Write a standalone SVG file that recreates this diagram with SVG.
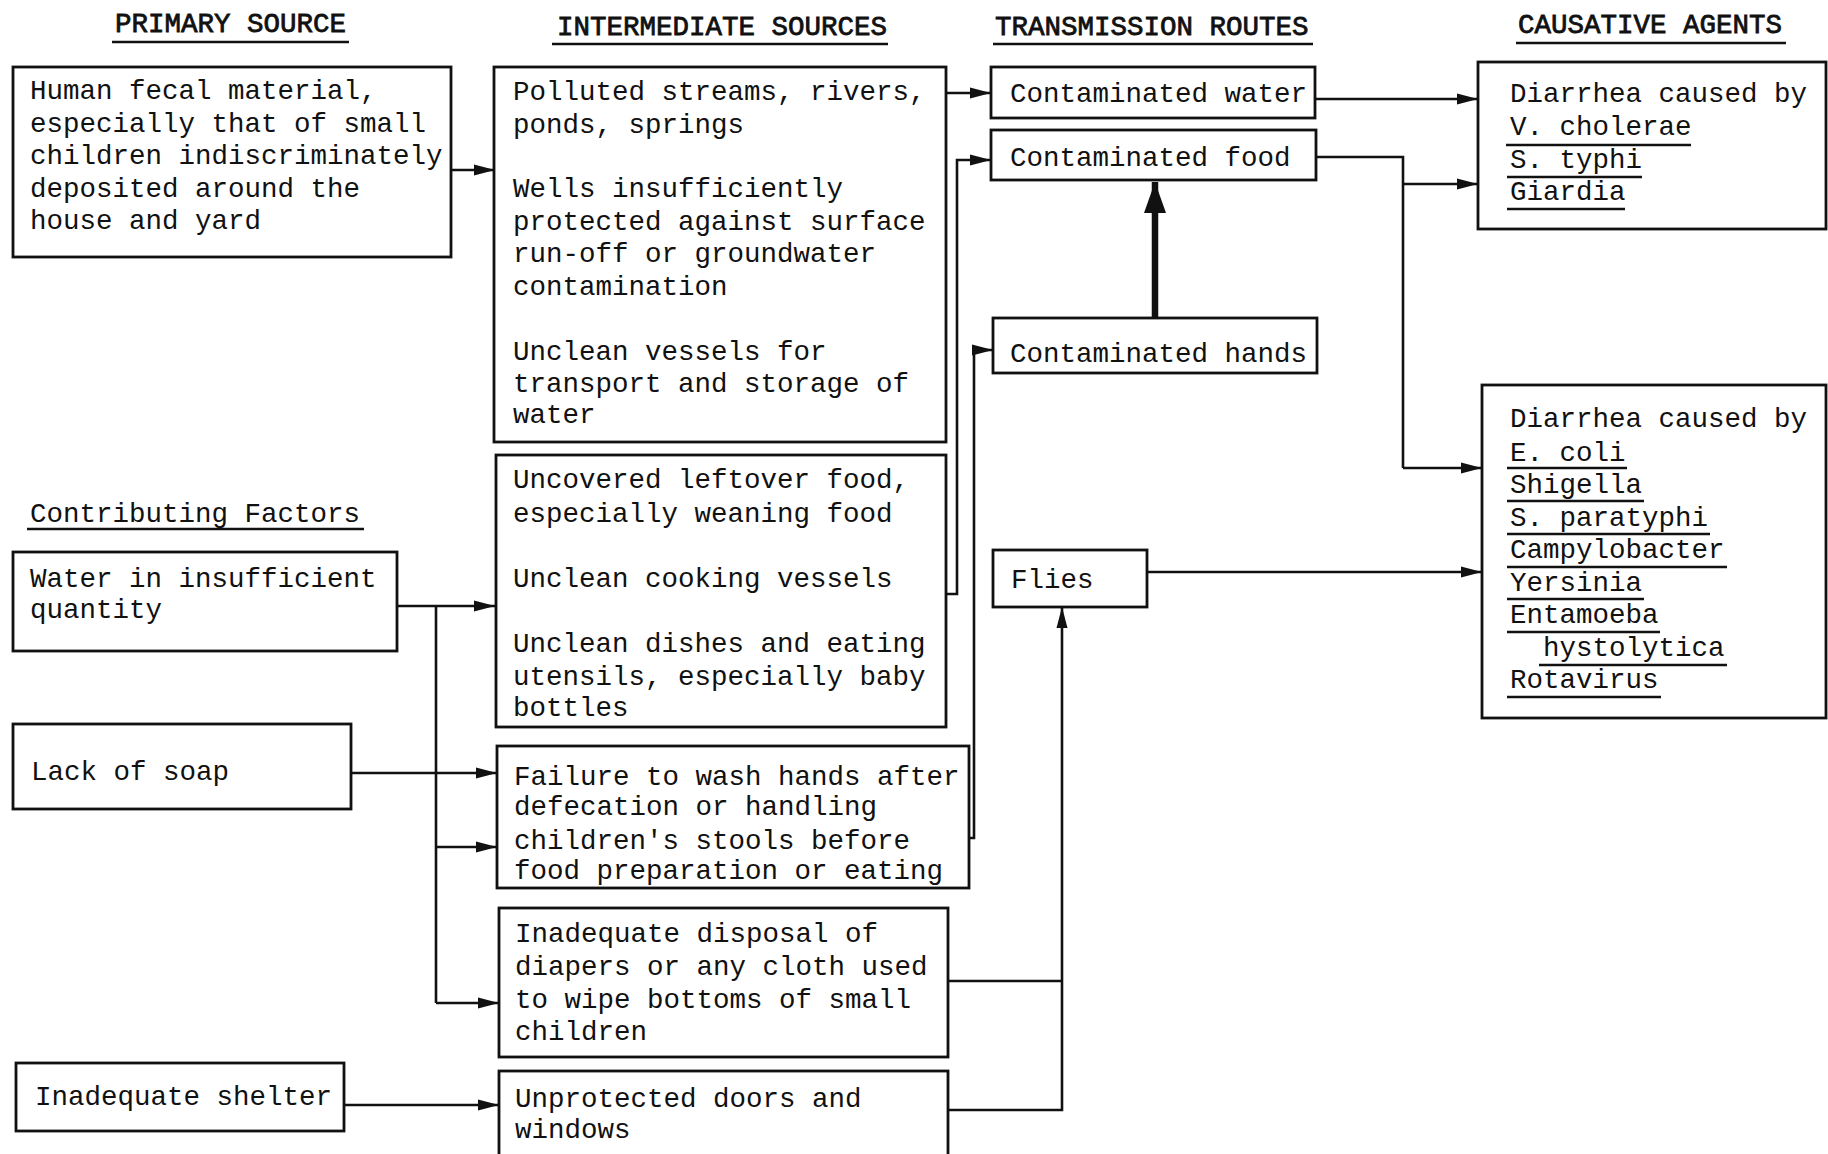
<svg xmlns="http://www.w3.org/2000/svg" width="1828" height="1154" viewBox="0 0 1828 1154">
<defs>
<style>
text{font-family:"Liberation Mono","DejaVu Sans Mono",monospace;font-size:27.5px;fill:#111}
.hd{font-size:27.5px;stroke:#111;stroke-width:0.8}
.box{fill:#fff;stroke:#111;stroke-width:2.8}
.ln{fill:none;stroke:#111;stroke-width:2.6}
.ul{fill:none;stroke:#111;stroke-width:2.4}
.arr{marker-end:url(#ah)}
</style>
<marker id="ah" markerUnits="userSpaceOnUse" markerWidth="22" markerHeight="12" refX="21" refY="6" orient="auto">
<path d="M0,0.5 L21,6 L0,11.5 z" fill="#111"/>
</marker>
<marker id="ahb" markerUnits="userSpaceOnUse" markerWidth="32" markerHeight="22" refX="31" refY="11" orient="auto">
<path d="M0,0 L31,11 L0,22 z" fill="#111"/>
</marker>
</defs>
<rect width="1828" height="1154" fill="#fff"/>

<g id="headers">
<text class="hd" x="115" y="32">PRIMARY SOURCE</text>
<line class="ul" x1="112" y1="42" x2="349" y2="42"/>
<text class="hd" x="557" y="35">INTERMEDIATE SOURCES</text>
<line class="ul" x1="552" y1="44" x2="888" y2="44"/>
<text class="hd" x="995" y="35">TRANSMISSION ROUTES</text>
<line class="ul" x1="993" y1="44" x2="1313" y2="44"/>
<text class="hd" x="1518" y="33">CAUSATIVE AGENTS</text>
<line class="ul" x1="1516" y1="43" x2="1786" y2="43"/>
<text x="30" y="522">Contributing Factors</text>
<line class="ul" x1="27" y1="529" x2="364" y2="529"/>
</g>

<g id="connectors">
<line class="ln arr" x1="451" y1="170" x2="495" y2="170"/>
<line class="ln arr" x1="946" y1="93" x2="991" y2="93"/>
<polyline class="ln arr" points="946,594 957,594 957,160 991,160"/>
<polyline class="ln arr" points="969,838 974,838 974,350 993,350"/>
<line x1="1155" y1="318" x2="1155" y2="182" stroke="#111" stroke-width="6.5" marker-end="url(#ahb)"/>
<line class="ln arr" x1="1315" y1="99" x2="1478" y2="99"/>
<polyline class="ln" points="1316,157 1403,157 1403,468"/>
<line class="ln arr" x1="1403" y1="184" x2="1478" y2="184"/>
<line class="ln arr" x1="1403" y1="468" x2="1482" y2="468"/>
<line class="ln arr" x1="1147" y1="572" x2="1482" y2="572"/>
<line class="ln arr" x1="397" y1="606" x2="495" y2="606"/>
<polyline class="ln" points="436,606 436,1003"/>
<line class="ln arr" x1="436" y1="847" x2="497" y2="847"/>
<line class="ln arr" x1="436" y1="1003" x2="499" y2="1003"/>
<line class="ln arr" x1="351" y1="773" x2="497" y2="773"/>
<line class="ln arr" x1="344" y1="1105" x2="499" y2="1105"/>
<polyline class="ln" points="948,981 1062,981"/>
<polyline class="ln arr" points="948,1110 1062,1110 1062,607"/>
</g>

<g id="n-primary">
<rect class="box" x="13" y="67" width="438" height="190"/>
<text x="30" y="99">Human fecal material,</text>
<text x="30" y="132">especially that of small</text>
<text x="30" y="164">children indiscriminately</text>
<text x="30" y="197">deposited around the</text>
<text x="30" y="229">house and yard</text>
</g>

<g id="n-water-sources">
<rect class="box" x="494" y="67" width="452" height="375"/>
<text x="513" y="100">Polluted streams, rivers,</text>
<text x="513" y="133">ponds, springs</text>
<text x="513" y="197">Wells insufficiently</text>
<text x="513" y="230">protected against surface</text>
<text x="513" y="262">run-off or groundwater</text>
<text x="513" y="295">contamination</text>
<text x="513" y="360">Unclean vessels for</text>
<text x="513" y="392">transport and storage of</text>
<text x="513" y="423">water</text>
</g>

<g id="n-food-sources">
<rect class="box" x="496" y="455" width="450" height="272"/>
<text x="513" y="488">Uncovered leftover food,</text>
<text x="513" y="522">especially weaning food</text>
<text x="513" y="587">Unclean cooking vessels</text>
<text x="513" y="652">Unclean dishes and eating</text>
<text x="513" y="685">utensils, especially baby</text>
<text x="513" y="716">bottles</text>
</g>

<g id="n-failure">
<rect class="box" x="497" y="746" width="472" height="142"/>
<text x="514" y="785">Failure to wash hands after</text>
<text x="514" y="815">defecation or handling</text>
<text x="514" y="849">children's stools before</text>
<text x="514" y="879">food preparation or eating</text>
</g>

<g id="n-diapers">
<rect class="box" x="499" y="908" width="449" height="149"/>
<text x="515" y="942">Inadequate disposal of</text>
<text x="515" y="975">diapers or any cloth used</text>
<text x="515" y="1008">to wipe bottoms of small</text>
<text x="515" y="1040">children</text>
</g>

<g id="n-doors">
<rect class="box" x="499" y="1071" width="449" height="100"/>
<text x="515" y="1107">Unprotected doors and</text>
<text x="515" y="1138">windows</text>
</g>

<g id="n-water-qty">
<rect class="box" x="13" y="552" width="384" height="99"/>
<text x="30" y="587">Water in insufficient</text>
<text x="30" y="618">quantity</text>
</g>

<g id="n-soap">
<rect class="box" x="13" y="724" width="338" height="85"/>
<text x="31" y="780">Lack of soap</text>
</g>

<g id="n-shelter">
<rect class="box" x="16" y="1063" width="328" height="68"/>
<text x="35" y="1105">Inadequate shelter</text>
</g>

<g id="n-cwater">
<rect class="box" x="991" y="67" width="324" height="51"/>
<text x="1010" y="102">Contaminated water</text>
</g>

<g id="n-cfood">
<rect class="box" x="991" y="130" width="325" height="50"/>
<text x="1010" y="166">Contaminated food</text>
</g>

<g id="n-chands">
<rect class="box" x="993" y="318" width="324" height="55"/>
<text x="1010" y="362">Contaminated hands</text>
</g>

<g id="n-flies">
<rect class="box" x="993" y="550" width="154" height="57"/>
<text x="1011" y="588">Flies</text>
</g>

<g id="n-agents1">
<rect class="box" x="1478" y="62" width="348" height="167"/>
<text x="1510" y="102">Diarrhea caused by</text>
<text x="1510" y="135">V. cholerae</text>
<line class="ul" x1="1506" y1="145" x2="1691" y2="145"/>
<text x="1510" y="168">S. typhi</text>
<line class="ul" x1="1507" y1="177" x2="1642" y2="177"/>
<text x="1510" y="200">Giardia</text>
<line class="ul" x1="1507" y1="209" x2="1625" y2="209"/>
</g>

<g id="n-agents2">
<rect class="box" x="1482" y="385" width="344" height="333"/>
<text x="1510" y="427">Diarrhea caused by</text>
<text x="1510" y="461">E. coli</text>
<line class="ul" x1="1507" y1="468" x2="1627" y2="468"/>
<text x="1510" y="493">Shigella</text>
<line class="ul" x1="1507" y1="501" x2="1644" y2="501"/>
<text x="1510" y="526">S. paratyphi</text>
<line class="ul" x1="1507" y1="534" x2="1710" y2="534"/>
<text x="1510" y="558">Campylobacter</text>
<line class="ul" x1="1507" y1="567" x2="1727" y2="567"/>
<text x="1510" y="591">Yersinia</text>
<line class="ul" x1="1507" y1="599" x2="1644" y2="599"/>
<text x="1510" y="623">Entamoeba</text>
<line class="ul" x1="1507" y1="632" x2="1660" y2="632"/>
<text x="1543" y="656">hystolytica</text>
<line class="ul" x1="1539" y1="665" x2="1727" y2="665"/>
<text x="1510" y="688">Rotavirus</text>
<line class="ul" x1="1507" y1="697" x2="1661" y2="697"/>
</g>
</svg>
